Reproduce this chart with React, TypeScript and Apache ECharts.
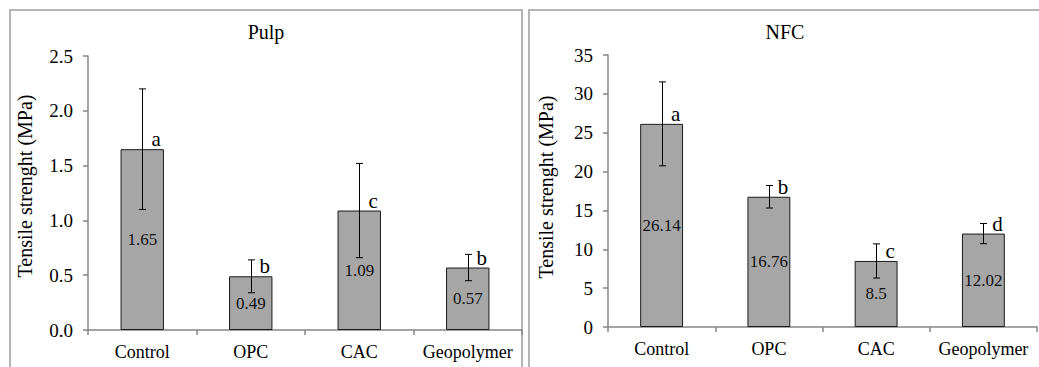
import React, { useEffect, useRef } from "react";
import * as echarts from "echarts";

const categories = ["Control", "OPC", "CAC", "Geopolymer"];
const pulpValues = [1.65, 0.49, 1.09, 0.57];
const pulpErrors = [0.55, 0.15, 0.43, 0.12];
const pulpLetters = ["a", "b", "c", "b"];
const nfcValues = [26.14, 16.76, 8.5, 12.02];
const nfcErrors = [5.4, 1.45, 2.2, 1.3];
const nfcLetters = ["a", "b", "c", "d"];
const panelTitles = ["Pulp", "NFC"];
const yAxisName = "Tensile strenght (MPa)";

const FAMILY = "Liberation Serif";
const FONT = "Liberation Serif, serif";

function errorSeries(idx: number, values: number[], errors: number[], letters: string[]) {
  return {
    type: "custom",
    xAxisIndex: idx,
    yAxisIndex: idx,
    z: 5,
    data: values.map((v, i) => [i, v - errors[i], v + errors[i], v]),
    renderItem: (params: any, api: any) => {
      const i = api.value(0);
      const lo = api.coord([i, api.value(1)]);
      const hi = api.coord([i, api.value(2)]);
      const top = api.coord([i, api.value(3)]);
      const x = Math.round(lo[0]) + 0.5;
      const cap = 3.5;
      const st = { stroke: "#000", lineWidth: 1 };
      return {
        type: "group",
        children: [
          { type: "line", shape: { x1: x, y1: lo[1], x2: x, y2: hi[1] }, style: st },
          { type: "line", shape: { x1: x - cap, y1: lo[1], x2: x + cap, y2: lo[1] }, style: st },
          { type: "line", shape: { x1: x - cap, y1: hi[1], x2: x + cap, y2: hi[1] }, style: st },
          {
            type: "text",
            x: top[0] + 14,
            y: top[1] - 10,
            style: {
              text: letters[params.dataIndex],
              fontSize: 21,
              fontFamily: FAMILY,
              fill: "#000",
              align: "center",
              verticalAlign: "middle",
            },
          },
        ],
      };
    },
  };
}

function barSeries(idx: number, values: number[]) {
  return {
    type: "bar",
    xAxisIndex: idx,
    yAxisIndex: idx,
    barWidth: "40%",
    data: values,
    itemStyle: { color: "#a6a6a6", borderColor: "#1a1a1a", borderWidth: 1 },
    label: {
      show: true,
      position: "inside",
      color: "#111",
      fontSize: 17,
      fontFamily: FAMILY,
    },
  };
}

export default function App() {
  const ref = useRef<HTMLDivElement>(null);
  useEffect(() => {
    const chart = echarts.init(ref.current!, null, { renderer: "svg" });
    const axisLine = { show: true, lineStyle: { color: "#868686", width: 1.5 } };
    const xAxis = (gi: number) => ({
      type: "category",
      gridIndex: gi,
      data: categories,
      axisLine,
      axisTick: { show: true, length: 5, lineStyle: { color: "#868686", width: 1.5 } },
      axisLabel: { color: "#000", fontSize: 18, fontFamily: FAMILY, margin: 13, interval: 0 },
    });
    const yAxis = (gi: number, max: number, interval: number, dec: number) => ({
      type: "value",
      gridIndex: gi,
      min: 0,
      max,
      interval,
      axisLine,
      axisTick: { show: true, length: 5, lineStyle: { color: "#868686", width: 1.5 } },
      splitLine: { show: false },
      axisLabel: {
        color: "#000",
        fontSize: 19,
        fontFamily: FAMILY,
        margin: 15,
        formatter: (v: number) => v.toFixed(dec),
      },
    });
    const txt = (text: string, x: number, y: number, rot: number) => ({
      type: "text",
      x,
      y,
      rotation: rot,
      style: { text, fontSize: 20, fontFamily: FAMILY, fill: "#000", align: "center", verticalAlign: "middle" },
    });
    chart.setOption({
      animation: false,
      textStyle: { fontFamily: FAMILY },
      grid: [
        { left: 88, right: 517, top: 56, bottom: 37 },
        { left: 608, right: 2, top: 55, bottom: 40 },
      ],
      xAxis: [xAxis(0), xAxis(1)],
      yAxis: [yAxis(0, 2.5, 0.5, 1), yAxis(1, 35, 5, 0)],
      series: [
        barSeries(0, pulpValues),
        errorSeries(0, pulpValues, pulpErrors, pulpLetters),
        barSeries(1, nfcValues),
        errorSeries(1, nfcValues, nfcErrors, nfcLetters),
      ],
      graphic: [
        {
          type: "rect",
          shape: { x: 10, y: 10, width: 512, height: 400 },
          style: { fill: "none", stroke: "#b5b5b5", lineWidth: 2 },
          silent: true,
        },
        {
          type: "rect",
          shape: { x: 529, y: 10, width: 520, height: 400 },
          style: { fill: "none", stroke: "#b5b5b5", lineWidth: 2 },
          silent: true,
        },
        txt(panelTitles[0], 266, 32, 0),
        txt(panelTitles[1], 785, 32, 0),
        txt(yAxisName, 25, 186, Math.PI / 2),
        txt(yAxisName, 546, 187, Math.PI / 2),
      ],
    });
    return () => chart.dispose();
  }, []);
  return (
    <div
      ref={ref}
      style={{ position: "fixed", left: 0, top: 0, width: 1039, height: 367, background: "#fff" }}
    />
  );
}
